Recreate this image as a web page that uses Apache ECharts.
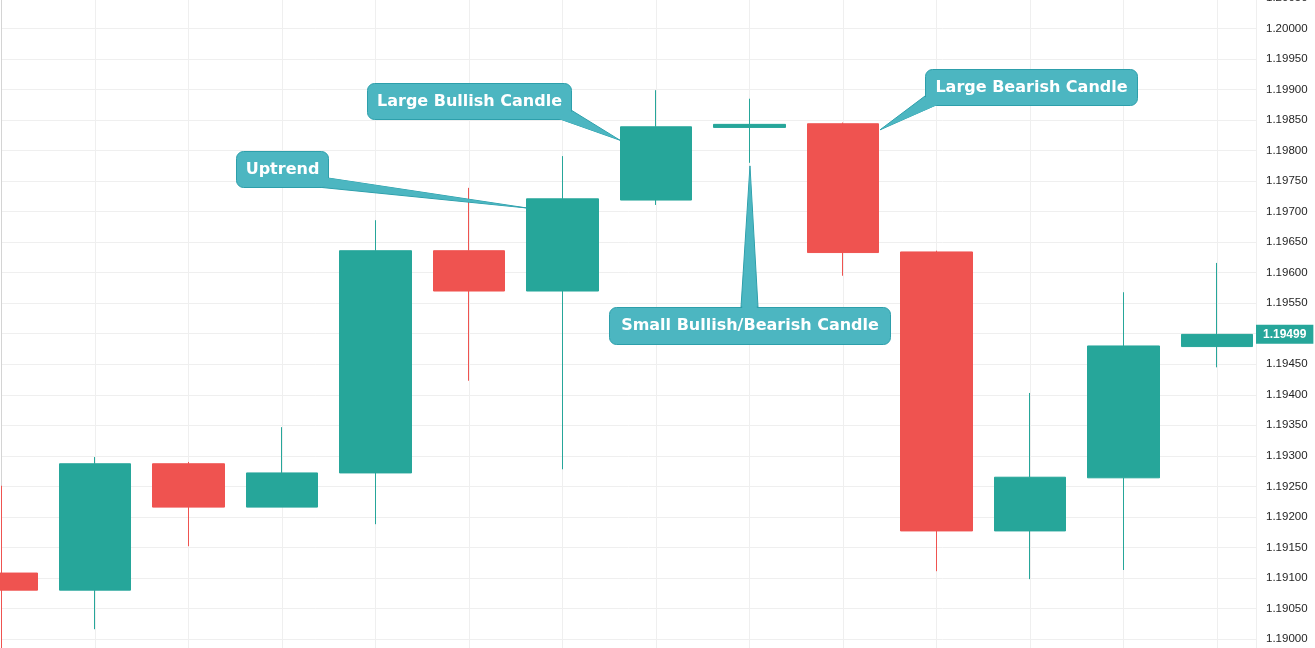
<!DOCTYPE html>
<html><head><meta charset="utf-8">
<script src="https://cdn.jsdelivr.net/npm/echarts@6/dist/echarts.min.js"></script>
<style>html,body{margin:0;padding:0;background:#fff;overflow:hidden}#c{width:1315px;height:648px;}</style>
</head><body><div id="c"></div>
<script>
// ---- data ----
const candleIndex = [0,1,2,3,4,5,6,7,8,9,10,11,12,13];
const opens  = [1.19108,1.19080,1.19287,1.19216,1.19272,1.19636,1.19570,1.19719,1.19838,1.19844,1.19634,1.19177,1.19264,1.19479];
const closes = [1.19080,1.19287,1.19216,1.19272,1.19636,1.19570,1.19721,1.19839,1.19843,1.19633,1.19177,1.19265,1.19480,1.19499];
const lows   = [1.18970,1.19016,1.19152,1.19216,1.19188,1.19423,1.19278,1.19711,1.19780,1.19595,1.19111,1.19098,1.19113,1.19445];
const highs  = [1.19251,1.19298,1.19290,1.19347,1.19686,1.19739,1.19791,1.19899,1.19885,1.19846,1.19636,1.19403,1.19568,1.19616];
const lastPrice = 1.19499;
const yMin = 1.1895, yMax = 1.2005, yStep = 0.0005;
const xMin = 0, xMax = 13.417;
const annTexts = ['Uptrend','Large Bullish Candle','Small Bullish/Bearish Candle','Large Bearish Candle'];
const annTipX  = [5.62, 6.615, 8.005, 9.396];
const annTipY  = [1.19706, 1.19817, 1.19775, 1.19834];

// ---- layout (pixels) ----
const annBoxes = [[236,151,92,36],[367,83,204,36],[609,307,281,37],[925,69,212,36]];
const annBases = [[[328,178],[317,187]],[[571,110],[560,119]],[[741,307],[758,307]],[[925,96],[936,105]]];

const UP = '#26a69a', DOWN = '#ef5350';
const chart = echarts.init(document.getElementById('c'), null, {renderer:'canvas'});
const data = candleIndex.map((x,i)=>[x, opens[i], closes[i], lows[i], highs[i]]);

chart.setOption({
  animation:false,
  grid:{left:1.5, right:59, top:-2, bottom:-21.5, containLabel:false, outerBoundsMode:'none'},
  xAxis:{type:'value', min:xMin, max:xMax, interval:1,
    axisLine:{show:false}, axisTick:{show:false}, axisLabel:{show:false},
    splitLine:{show:true, lineStyle:{color:'#efefef', width:1}}},
  yAxis:{type:'value', position:'right', min:yMin, max:yMax, interval:yStep,
    axisLine:{show:true, lineStyle:{color:'#d4d4d4', width:1}},
    axisTick:{show:false},
    axisLabel:{margin:10, color:'#1f1f1f', fontFamily:'Liberation Sans', fontSize:11.5,
      formatter:v=>v.toFixed(5)},
    splitLine:{show:true, lineStyle:{color:'#efefef', width:1}}},
  series:[{
    type:'candlestick', data:data, barWidth:72, clip:false,
    itemStyle:{color:UP, color0:DOWN, borderColor:UP, borderColor0:DOWN, borderWidth:1},
    emphasis:{disabled:true},
    markLine:{silent:true, symbol:['none','none'], animation:false,
      lineStyle:{width:0, color:'rgba(0,0,0,0)', type:'solid'},
      label:{show:true, position:'end', distance:0, formatter:()=>lastPrice.toFixed(5),
        backgroundColor:UP, color:'#fff', fontWeight:'bold', fontFamily:'Liberation Sans', fontSize:12,
        padding:[4,7,3,7]},
      data:[[{coord:[xMin, lastPrice]},{coord:[xMax, lastPrice]}]]}
  }]
});

const FILL = '#4cb6c1', STROKE = '#2d9fab';
const els = [];
annTexts.forEach((t,i)=>{
  const tip = chart.convertToPixel({gridIndex:0},[annTipX[i], annTipY[i]]);
  const [b1,b2] = annBases[i];
  const [bx,by,bw,bh] = annBoxes[i];
  const cx = bx+bw/2, cy = by+bh/2;
  const inward = p=>{const dx=cx-p[0], dy=cy-p[1]; const d=Math.hypot(dx,dy); return [p[0]+dx/d*2.5, p[1]+dy/d*2.5];};
  const mid=[(b1[0]+b2[0])/2,(b1[1]+b2[1])/2];
  const tip2=[tip[0]+(mid[0]-tip[0])*0.03, tip[1]+(mid[1]-tip[1])*0.03];
  els.push({type:'polygon', z:100, shape:{points:[b1,b2,tip]}, style:{fill:FILL, stroke:STROKE, lineWidth:1}, silent:true});
  els.push({type:'rect', z:101, shape:{x:bx+0.5,y:by+0.5,width:bw,height:bh,r:7},
    style:{fill:FILL, stroke:STROKE, lineWidth:1}, silent:true});
  els.push({type:'polygon', z:102, shape:{points:[inward(b1),inward(b2),tip2]}, style:{fill:FILL}, silent:true});
  els.push({type:'text', z:103, x:cx+0.5, y:cy+0.5, silent:true,
    style:{text:t, fill:'#fff', font:'bold 16px "DejaVu Sans"', align:'center', verticalAlign:'middle'}});
});
chart.setOption({graphic:{elements:els}});
</script></body></html>
